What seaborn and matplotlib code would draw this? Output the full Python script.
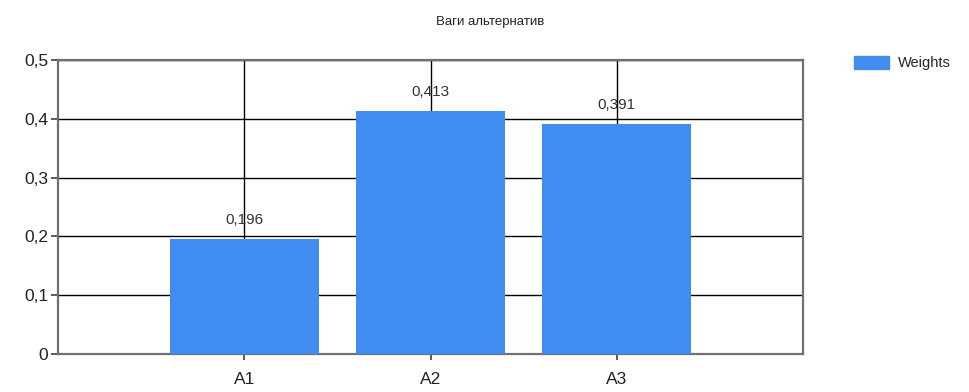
import matplotlib
matplotlib.use("Agg")
import matplotlib.pyplot as plt
import seaborn as sns
import pandas as pd
from matplotlib.ticker import FuncFormatter, MultipleLocator
from matplotlib.patches import Patch

categories = ["A1", "A2", "A3"]
weights = [0.196, 0.413, 0.391]
value_labels = ["0,196", "0,413", "0,391"]
title = "Ваги альтернатив"
series_name = "Weights"

df = pd.DataFrame({"cat": categories, "w": weights})

sns.set_theme(style="white")
plt.rcParams['font.family'] = ['Liberation Sans', 'DejaVu Sans']

fig = plt.figure(figsize=(9.69, 3.92), dpi=100)
ax = fig.add_axes([0.0599, 0.097, 0.769, 0.750])

color = "#418CF0"
sns.barplot(data=df, x="cat", y="w", color=color, width=0.8, saturation=1,
            ax=ax, zorder=3, edgecolor=color, linewidth=0)

ax.set_xlim(-1, 3)
ax.set_ylim(0, 0.5)
ax.yaxis.set_major_locator(MultipleLocator(0.1))
ax.yaxis.set_major_formatter(FuncFormatter(
    lambda v, p: "0" if abs(v) < 1e-9 else f"{v:.1f}".replace(".", ",")))
ax.set_xlabel("")
ax.set_ylabel("")

ax.grid(True, color="black", linewidth=1.0, zorder=0)
ax.set_axisbelow(True)
for s in ax.spines.values():
    s.set_color("#707070")
    s.set_linewidth(1.6)

ax.tick_params(axis="y", direction="out", length=5, width=1.2, color="#404040",
               labelsize=12.5, pad=2, left=True, labelcolor="#222222")
ax.tick_params(axis="x", direction="out", length=4, width=1.2, color="#404040",
               labelsize=12.5, pad=9, bottom=True, labelcolor="#222222")

for i, (v, lab) in enumerate(zip(weights, value_labels)):
    ax.annotate(lab, (i, v), xytext=(0, 8.5), textcoords="offset points",
                ha="center", va="bottom", fontsize=11, color="#333333",
                zorder=5)

fig.text(0.5055, 0.945, title, ha="center", va="center", fontsize=9.5,
         color="#222222")

handles = [Patch(facecolor=color, edgecolor=color, label=series_name)]
fig.legend(handles=handles, loc="upper left", bbox_to_anchor=(0.875, 0.872),
           frameon=False, fontsize=10.5, handlelength=2.4, handleheight=0.95,
           handletextpad=0.65, borderaxespad=0)

fig.savefig("out.png", dpi=100)
